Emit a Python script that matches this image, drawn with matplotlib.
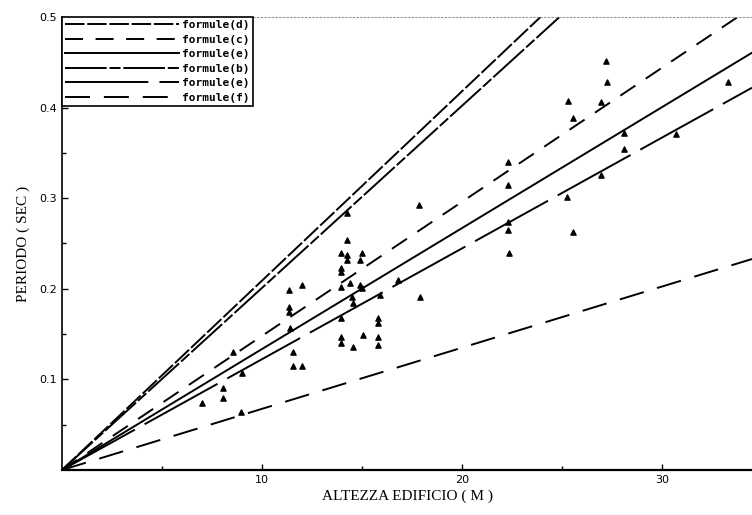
import numpy as np
import matplotlib
matplotlib.use("Agg")
import matplotlib.pyplot as plt

plt.rcParams['lines.scale_dashes'] = False

# measured buildings: height (m), period (s)
altezza = [7.0, 8.05, 8.05, 8.55, 9.0, 8.95,
           11.35, 12.0, 11.35, 11.35, 11.4, 11.55, 11.55, 12.0,
           14.25, 14.25, 13.95, 14.25, 14.25, 15.0, 14.9, 13.95, 13.95,
           13.95, 14.4, 14.9, 15.0, 14.5, 14.55, 13.95, 15.9, 16.8,
           15.8, 15.8, 15.8, 15.8, 13.95, 13.95, 14.55, 15.05,
           17.85, 17.9,
           22.3, 22.3, 22.3, 22.3, 22.35,
           25.3, 25.55, 25.25, 25.55,
           27.2, 27.25, 26.95, 26.95, 28.1, 28.1, 30.7, 33.3]
periodo = [0.074, 0.090, 0.080, 0.130, 0.107, 0.064,
           0.199, 0.204, 0.180, 0.174, 0.157, 0.130, 0.115, 0.115,
           0.284, 0.254, 0.240, 0.237, 0.232, 0.240, 0.232, 0.223, 0.219,
           0.202, 0.206, 0.204, 0.201, 0.191, 0.184, 0.168, 0.193, 0.210,
           0.168, 0.162, 0.147, 0.138, 0.147, 0.140, 0.136, 0.149,
           0.292, 0.191,
           0.340, 0.315, 0.274, 0.265, 0.240,
           0.407, 0.388, 0.301, 0.263,
           0.451, 0.428, 0.406, 0.326, 0.372, 0.354, 0.371, 0.428]

# formula lines T = k * H
formule = ['formule(d)', 'formule(c)', 'formule(e)', 'formule(b)', 'formule(e)', 'formule(f)']
pendenze = [0.0209, 0.0148, 0.01335, 0.0201, 0.01223, 0.00675]
stili = [(0, (14, 2)), (0, (13, 9)), '-', (0, (30, 2, 8, 2)), (0, (60, 8)), (0, (18, 10))]

fig = plt.figure(figsize=(7.52, 5.15), dpi=100)
ax = fig.add_axes([62 / 752, 45 / 515, 690 / 752, 453 / 515])

h = np.array([0, 34.5])
for nome, k, ls in zip(formule, pendenze, stili):
    ax.plot(h, k * h, color='black', lw=1.4, linestyle=ls, label=nome)

ax.scatter(altezza, periodo, marker='^', s=14, color='black', zorder=3)

ax.set_xlim(0, 34.5)
ax.set_ylim(0, 0.5)
ax.set_xticks([10, 20, 30])
ax.set_xticks([5, 15, 25], minor=True)
ax.set_yticks([0.1, 0.2, 0.3, 0.4, 0.5])
ax.set_yticklabels(['0.1', '0.2', '0.3', '0.4', '0.5'])
ax.set_yticks(np.arange(0.05, 0.5, 0.1), minor=True)
ax.tick_params(axis='both', direction='in', length=4, width=1, labelsize=8)
ax.tick_params(axis='both', which='minor', direction='in', length=3, width=1)

ax.spines['right'].set_visible(False)
ax.spines['top'].set_color('0.6')
ax.spines['top'].set_linestyle(':')
ax.spines['left'].set_linewidth(1.2)
ax.spines['bottom'].set_linewidth(1.6)

ax.set_xlabel('ALTEZZA EDIFICIO ( M )', family='Liberation Serif', fontsize=11, labelpad=3)
ax.set_ylabel('PERIODO ( SEC )', family='Liberation Serif', fontsize=11, labelpad=7)

leg = ax.legend(loc='upper left', borderaxespad=0, handlelength=10.2, handletextpad=0.3,
                labelspacing=0.4, borderpad=0.3, fancybox=False, framealpha=1,
                prop={'family': 'DejaVu Sans Mono', 'weight': 'bold', 'size': 8})
leg.get_frame().set_edgecolor('black')
leg.get_frame().set_linewidth(1.2)

fig.savefig('out.png', dpi=100)
